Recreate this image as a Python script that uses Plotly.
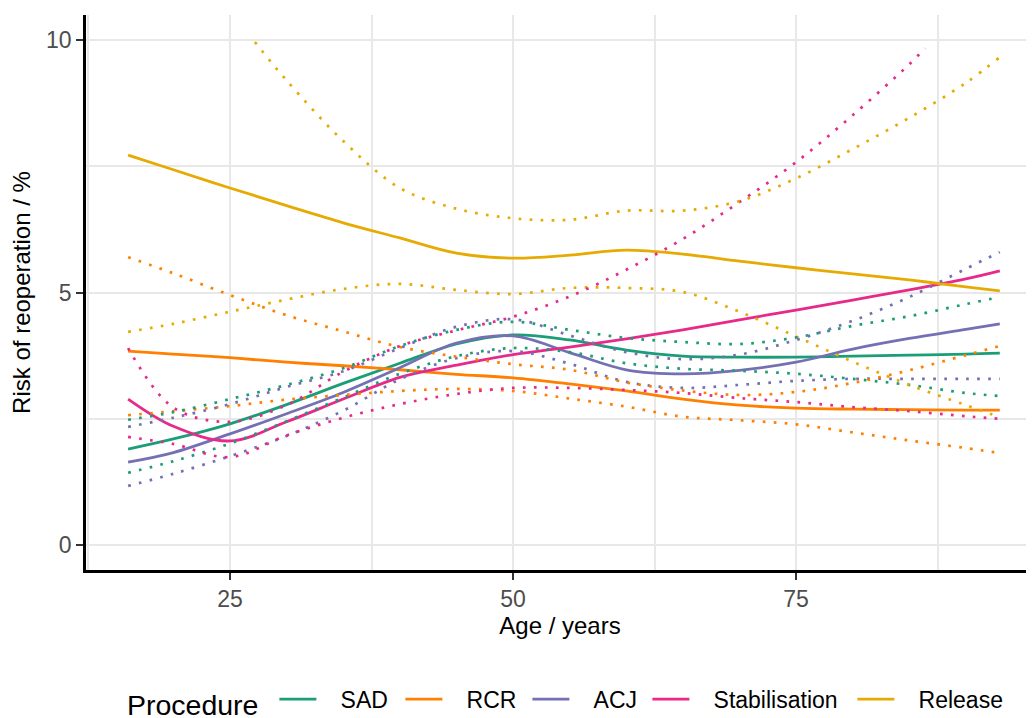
import plotly.graph_objects as go

age = [16, 20, 25, 30, 35, 40, 45, 50, 55, 60, 65, 70, 75, 80, 85, 90, 93]

procedures = ["SAD", "RCR", "ACJ", "Stabilisation", "Release"]
colours = ["#1B9E77", "#FF7F00", "#7570B3", "#E7298A", "#E6AB02"]

sad_est = [1.90, 2.10, 2.40, 2.78, 3.20, 3.60, 3.98, 4.16, 4.06, 3.86, 3.74, 3.72, 3.72, 3.74, 3.76, 3.78, 3.80]
sad_lo = [1.43, 1.66, 2.01, 2.45, 2.92, 3.39, 3.74, 3.90, 3.82, 3.60, 3.49, 3.45, 3.39, 3.29, 3.17, 3.01, 2.95]
sad_hi = [2.48, 2.63, 2.89, 3.17, 3.50, 3.94, 4.26, 4.42, 4.26, 4.10, 4.02, 3.98, 4.11, 4.34, 4.53, 4.77, 4.91]

rcr_est = [3.84, 3.78, 3.71, 3.62, 3.55, 3.47, 3.38, 3.31, 3.19, 3.05, 2.89, 2.77, 2.71, 2.69, 2.68, 2.67, 2.67]
rcr_lo = [2.57, 2.65, 2.75, 2.88, 2.97, 3.05, 3.09, 3.05, 2.90, 2.74, 2.54, 2.47, 2.39, 2.23, 2.07, 1.92, 1.82]
rcr_hi = [5.70, 5.38, 4.95, 4.55, 4.23, 3.92, 3.73, 3.58, 3.47, 3.22, 3.06, 2.97, 3.03, 3.21, 3.46, 3.76, 3.94]

acj_est = [1.64, 1.83, 2.20, 2.60, 3.02, 3.51, 4.00, 4.14, 3.81, 3.47, 3.39, 3.46, 3.62, 3.88, 4.09, 4.27, 4.38]
acj_lo = [1.17, 1.41, 1.76, 2.16, 2.66, 3.28, 3.70, 3.84, 3.59, 3.23, 3.11, 3.17, 3.25, 3.29, 3.29, 3.29, 3.29]
acj_hi = [2.34, 2.52, 2.79, 3.13, 3.44, 3.90, 4.32, 4.47, 4.15, 3.82, 3.68, 3.77, 4.06, 4.44, 4.91, 5.47, 5.80]

stab_est = [2.89, 2.35, 2.06, 2.44, 2.89, 3.32, 3.56, 3.77, 3.92, 4.08, 4.26, 4.46, 4.65, 4.85, 5.05, 5.27, 5.43]
stab_lo = [2.14, 2.00, 1.74, 2.17, 2.52, 2.79, 2.99, 3.11, 3.11, 3.07, 3.01, 2.91, 2.83, 2.73, 2.65, 2.55, 2.50]
stab_hi_age = [16, 20, 25, 30, 35, 40, 45, 50, 55, 60, 65, 70, 75, 80, 85, 86.4]
stab_hi = [3.90, 2.72, 2.44, 2.77, 3.43, 3.94, 4.25, 4.52, 4.92, 5.45, 6.06, 6.79, 7.58, 8.51, 9.52, 9.84]

rel_est = [7.72, 7.43, 7.07, 6.72, 6.38, 6.08, 5.78, 5.68, 5.74, 5.84, 5.76, 5.62, 5.49, 5.37, 5.25, 5.11, 5.03]
rel_lo = [4.22, 4.38, 4.62, 4.86, 5.07, 5.17, 5.05, 4.97, 5.09, 5.09, 5.01, 4.62, 4.13, 3.63, 3.17, 2.77, 2.53]
rel_hi_age = [27.2, 30, 35, 40, 45, 50, 55, 60, 65, 70, 75, 80, 85, 90, 93]
rel_hi = [9.96, 9.20, 8.00, 7.07, 6.66, 6.47, 6.44, 6.62, 6.62, 6.81, 7.26, 7.84, 8.46, 9.15, 9.66]

x_ticks = [25, 50, 75]
y_ticks = [0, 5, 10]

est = [sad_est, rcr_est, acj_est, stab_est, rel_est]
lo = [(age, sad_lo), (age, rcr_lo), (age, acj_lo), (age, stab_lo), (age, rel_lo)]
hi = [(age, sad_hi), (age, rcr_hi), (age, acj_hi), (stab_hi_age, stab_hi), (rel_hi_age, rel_hi)]

FONT = "Liberation Sans, Arial, sans-serif"
NB = "\u00a0\u00a0\u00a0"
legend_widths = [74, 75, 68, 153, 100]

fig = go.Figure()
for name, col, y, lw in zip(procedures, colours, est, legend_widths):
    fig.add_trace(go.Scatter(
        x=age, y=y, mode="lines", name=NB + name, legendgroup=name,
        line=dict(color=col, width=2.8, shape="spline"), legendwidth=lw,
    ))
for layer in (lo, hi):
    for name, col, (xx, yy) in zip(procedures, colours, layer):
        fig.add_trace(go.Scatter(
            x=xx, y=yy, mode="lines", name=name, legendgroup=name, showlegend=False,
            line=dict(color=col, width=2.7, dash="2.7px,8.3px", shape="spline"),
        ))

grid = "#E8E8E8"
fig.update_layout(
    width=1026, height=710,
    margin=dict(l=78, r=0, t=7, b=148, autoexpand=False),
    plot_bgcolor="white", paper_bgcolor="white",
    font=dict(family=FONT, size=23, color="black"),
    showlegend=True,
    legend=dict(
        orientation="h", x=0.0411, xanchor="left",
        yref="container", y=0.023, yanchor="middle",
        title=dict(text="Procedure\u00a0", side="left", font=dict(size=28.5, color="black")),
        font=dict(size=23, color="black"), itemwidth=37,
        bgcolor="rgba(0,0,0,0)",
    ),
    xaxis=dict(
        range=[12.28, 96.02], tickvals=x_ticks, ticktext=[str(v) for v in x_ticks],
        showgrid=True, gridcolor=grid, gridwidth=2.4, zeroline=False,
        minor=dict(dtick=12.5, tick0=0, showgrid=True, gridcolor=grid, gridwidth=2.4, ticks=""),
        showline=True, linecolor="black", linewidth=2.5,
        ticks="outside", ticklen=7, tickwidth=2, tickcolor="#333333",
        tickfont=dict(size=23, color="#4D4D4D"), automargin=False,
        title=dict(text="Age / years", font=dict(size=24, color="black"), standoff=6),
    ),
    yaxis=dict(
        range=[-0.495, 10.495], tickvals=y_ticks, ticktext=[str(v) for v in y_ticks],
        showgrid=True, gridcolor=grid, gridwidth=2.4, zeroline=False,
        minor=dict(dtick=2.5, tick0=0, showgrid=True, gridcolor=grid, gridwidth=2.4, ticks=""),
        showline=True, linecolor="black", linewidth=2.5,
        ticks="outside", ticklen=7, tickwidth=2, tickcolor="#333333",
        tickfont=dict(size=23, color="#4D4D4D"), automargin=False,
        title=dict(text="Risk of reoperation / %", font=dict(size=24, color="black"), standoff=10),
    ),
)

fig.write_html("out.html")
